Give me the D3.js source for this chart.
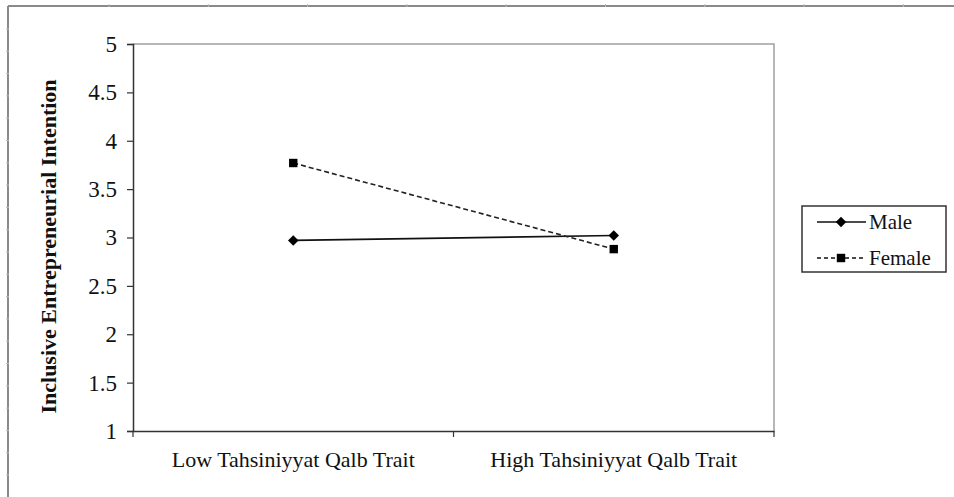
<!DOCTYPE html>
<html>
<head>
<meta charset="utf-8">
<script src="https://cdn.jsdelivr.net/npm/d3@7"></script>
<style>
  html, body { margin: 0; padding: 0; background: #fff; }
  svg { display: block; }
  text { font-family: "Liberation Serif", "Times New Roman", serif; fill: #111; }
</style>
</head>
<body>
<svg id="chart" width="954" height="497"></svg>
<script>
// Interaction plot: gender x trait level
const categories = ["Low Tahsiniyyat Qalb Trait", "High Tahsiniyyat Qalb Trait"];
const maleValues = [2.97, 3.02];
const femaleValues = [3.77, 2.88];
const seriesNames = ["Male", "Female"];
const yTicks = [1, 1.5, 2, 2.5, 3, 3.5, 4, 4.5, 5];
const yTitle = "Inclusive Entrepreneurial Intention";

const serif = "'Liberation Serif', 'Times New Roman', serif";
const svg = d3.select("#chart");
const plot = { left: 133, right: 774, top: 44, bottom: 431 };

// Outer frame (top and left edges with faint ruler ticks)
const frame = svg.append("g");
frame.append("line").attr("x1", 8).attr("x2", 954).attr("y1", 6).attr("y2", 6)
  .attr("stroke", "#8a8a8a").attr("stroke-width", 2);
frame.append("line").attr("x1", 8).attr("x2", 8).attr("y1", 6).attr("y2", 497)
  .attr("stroke", "#8a8a8a").attr("stroke-width", 2);
d3.range(109, 954, 99.3).forEach(x => {
  frame.append("line").attr("x1", x).attr("x2", x).attr("y1", 4).attr("y2", 7)
    .attr("stroke", "#bbb").attr("stroke-width", 1);
});
d3.range(29, 497, 22.3).forEach(y => {
  frame.append("line").attr("x1", 6).attr("x2", 9).attr("y1", y).attr("y2", y)
    .attr("stroke", "#bbb").attr("stroke-width", 1);
});

const x = d3.scaleBand().domain(categories).range([plot.left, plot.right]).padding(0);
const y = d3.scaleLinear().domain([1, 5]).range([plot.bottom, plot.top]);

// Plot area border (top and right)
svg.append("path")
  .attr("d", `M${plot.left},${plot.top}H${plot.right}V${plot.bottom}`)
  .attr("fill", "none").attr("stroke", "#a0a0a0").attr("stroke-width", 1.5);

// Y axis
const yAxis = svg.append("g")
  .attr("transform", `translate(${plot.left},0)`)
  .call(d3.axisLeft(y).tickValues(yTicks).tickSize(6).tickPadding(10).tickFormat(d3.format("")));
yAxis.attr("font-family", serif);
yAxis.select(".domain").attr("stroke", "#333").attr("stroke-width", 1.5);
yAxis.selectAll(".tick line").attr("stroke", "#333").attr("stroke-width", 1.2);
yAxis.selectAll(".tick text").attr("font-size", 23).attr("fill", "#111")
  .style("font-family", serif);

// X axis with ticks at band boundaries
const xAxis = svg.append("g")
  .attr("transform", `translate(0,${plot.bottom})`)
  .call(d3.axisBottom(x).tickSize(0).tickPadding(20));
xAxis.attr("font-family", serif);
xAxis.select(".domain").attr("stroke", "#333").attr("stroke-width", 1.5);
xAxis.selectAll(".tick text").attr("font-size", 22).attr("fill", "#111")
  .style("font-family", serif);
const bounds = [x.range()[0], ...categories.map(c => x(c) + x.bandwidth())];
xAxis.selectAll(".bound").data(bounds).enter().append("line")
  .attr("x1", d => d).attr("x2", d => d).attr("y1", 0).attr("y2", 6)
  .attr("stroke", "#333").attr("stroke-width", 1.2);

// Y axis title
svg.append("text")
  .attr("transform", `translate(56,${(plot.top + plot.bottom) / 2 + 9}) rotate(-90)`)
  .attr("text-anchor", "middle")
  .attr("font-size", 22).attr("font-weight", "bold")
  .style("font-family", serif)
  .text(yTitle);

const cx = c => x(c) + x.bandwidth() / 2;
const line = d3.line().x(d => cx(d.c)).y(d => y(d.v));
const maleData = categories.map((c, i) => ({ c, v: maleValues[i] }));
const femaleData = categories.map((c, i) => ({ c, v: femaleValues[i] }));

const diamond = d3.symbol().type(d3.symbolDiamond2).size(70);
const square = d3.symbol().type(d3.symbolSquare2).size(90);

// Male series: solid line with diamonds
svg.append("path").datum(maleData).attr("d", line)
  .attr("fill", "none").attr("stroke", "#111").attr("stroke-width", 1.6);
svg.selectAll(".male-pt").data(maleData).enter().append("path")
  .attr("transform", d => `translate(${cx(d.c)},${y(d.v)})`)
  .attr("d", diamond).attr("fill", "#000");

// Female series: dashed line with squares
svg.append("path").datum(femaleData).attr("d", line)
  .attr("fill", "none").attr("stroke", "#222").attr("stroke-width", 1.6)
  .attr("stroke-dasharray", "5,3");
svg.selectAll(".female-pt").data(femaleData).enter().append("path")
  .attr("transform", d => `translate(${cx(d.c)},${y(d.v)})`)
  .attr("d", square).attr("fill", "#000");

// Legend
const legend = svg.append("g");
legend.append("rect").attr("x", 802).attr("y", 206).attr("width", 144).attr("height", 66)
  .attr("fill", "#fff").attr("stroke", "#333").attr("stroke-width", 1.5);
const legendRows = [
  { name: seriesNames[0], dash: null, sym: diamond, yy: 222 },
  { name: seriesNames[1], dash: "4,3", sym: square, yy: 258 }
];
legendRows.forEach(r => {
  legend.append("line").attr("x1", 817).attr("x2", 866).attr("y1", r.yy).attr("y2", r.yy)
    .attr("stroke", "#111").attr("stroke-width", 1.5)
    .attr("stroke-dasharray", r.dash);
  legend.append("path").attr("transform", `translate(841,${r.yy})`)
    .attr("d", r.sym).attr("fill", "#000");
  legend.append("text").attr("x", 869).attr("y", r.yy + 7)
    .attr("font-size", 21).style("font-family", serif).text(r.name);
});
</script>
</body>
</html>
